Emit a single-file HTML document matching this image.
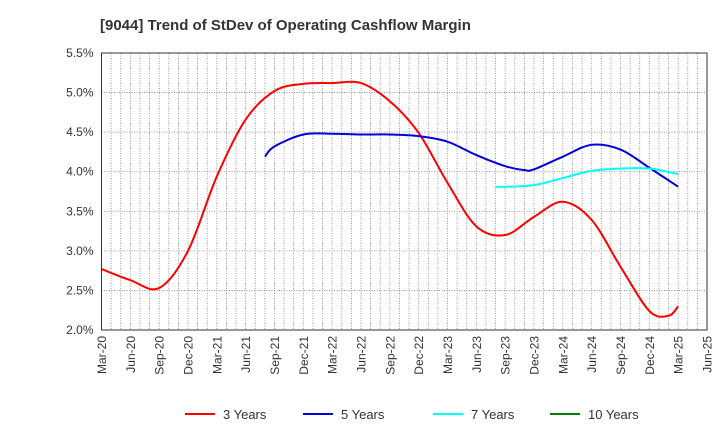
<!DOCTYPE html>
<html><head><meta charset="utf-8"><style>
body{margin:0;background:#fff;font-family:"Liberation Sans",Arial,sans-serif}
</style></head><body>
<svg id="c" width="720" height="440" xmlns="http://www.w3.org/2000/svg">
<text x="100" y="30" font-size="15" font-weight="bold" fill="#333">[9044]  Trend of StDev of Operating Cashflow Margin</text>
<g id="grid"></g><g id="series"></g><g id="axes"></g><g id="legend"></g>
</svg>
<script>
const xTickLabels=["Mar-20","Jun-20","Sep-20","Dec-20","Mar-21","Jun-21","Sep-21","Dec-21","Mar-22","Jun-22","Sep-22","Dec-22","Mar-23","Jun-23","Sep-23","Dec-23","Mar-24","Jun-24","Sep-24","Dec-24","Mar-25","Jun-25"];
const yTicks=[2.0,2.5,3.0,3.5,4.0,4.5,5.0,5.5];
// month offsets from Mar-20
const m3=[0,3,6,9,12,15,18,21,24,27,30,33,36,39,42,45,48,51,54,57,59,60];
const v3=[2.77,2.63,2.53,3.0,3.94,4.66,5.02,5.11,5.12,5.12,4.89,4.49,3.86,3.31,3.20,3.43,3.62,3.39,2.80,2.24,2.18,2.30];
const m5=[17,18,21,24,27,30,33,36,39,42,44,45,48,51,54,57,60];
const v5=[4.19,4.32,4.47,4.48,4.47,4.47,4.45,4.38,4.21,4.07,4.02,4.03,4.19,4.34,4.28,4.05,3.81];
const m7=[41,42,45,48,51,54,57,60];
const v7=[3.81,3.81,3.83,3.92,4.01,4.04,4.04,3.97];
const m10=[];const v10=[];
const L=101.5,R=707,T=53,B=330;
const X=m=>L+(R-L)*m/63;
const Y=v=>B-(B-T)*(v-2)/3.5;
const NS="http://www.w3.org/2000/svg";
function mk(tag,attrs,parent){const e=document.createElementNS(NS,tag);for(const k in attrs)e.setAttribute(k,attrs[k]);parent.appendChild(e);return e;}
const grid=document.getElementById('grid'),axes=document.getElementById('axes'),ser=document.getElementById('series'),leg=document.getElementById('legend');
for(let m=1;m<63;m++){const g=mk('line',{x1:X(m),x2:X(m),y1:T,y2:B,stroke:'#888','stroke-dasharray':'1,1.5','stroke-width':0.8},grid);
}
yTicks.forEach(v=>{const g=mk('line',{x1:L,x2:R,y1:Y(v),y2:Y(v),stroke:'#888','stroke-dasharray':'1,1.5','stroke-width':0.8},grid);

const t=mk('text',{x:L-8,y:Y(v)+4,'text-anchor':'end','font-size':12,fill:'#333'},axes);t.textContent=v.toFixed(1)+'%';
});
const fr=mk('rect',{x:L,y:T,width:R-L,height:B-T,fill:'none',stroke:'#333','stroke-width':1},axes);

xTickLabels.forEach((s,i)=>{const x=X(i*3);const t=mk('text',{x:0,y:0,transform:`translate(${x+4.5},${B+6}) rotate(-90)`,'text-anchor':'end','font-size':12,fill:'#333'},axes);t.textContent=s;
});
function path(ms,vs){const p=ms.map((m,i)=>[X(m),Y(vs[i])]);if(!p.length)return'';let d=`M${p[0][0]},${p[0][1]}`;
for(let i=0;i<p.length-1;i++){const p0=p[i-1]||p[i],p1=p[i],p2=p[i+1],p3=p[i+2]||p2;
d+=` C${p1[0]+(p2[0]-p0[0])/6},${p1[1]+(p2[1]-p0[1])/6} ${p2[0]-(p3[0]-p1[0])/6},${p2[1]-(p3[1]-p1[1])/6} ${p2[0]},${p2[1]}`;}return d;}
const S=[[m3,v3,'#ff0000','3 Years','series-3-years'],[m5,v5,'#0000dd','5 Years','series-5-years'],[m7,v7,'#00ffff','7 Years','series-7-years'],[m10,v10,'#008000','10 Years','series-10-years']];
const lx=[185,303,433,550];
S.forEach((s,i)=>{if(s[0].length){const p=mk('path',{d:path(s[0],s[1]),fill:'none',stroke:s[2],'stroke-width':2},ser);
}
const l=mk('line',{x1:lx[i],x2:lx[i]+30,y1:414,y2:414,stroke:s[2],'stroke-width':2},leg);

const t=mk('text',{x:lx[i]+38,y:419,'font-size':13,fill:'#333'},leg);t.textContent=s[3];
});
</script>
</body></html>
